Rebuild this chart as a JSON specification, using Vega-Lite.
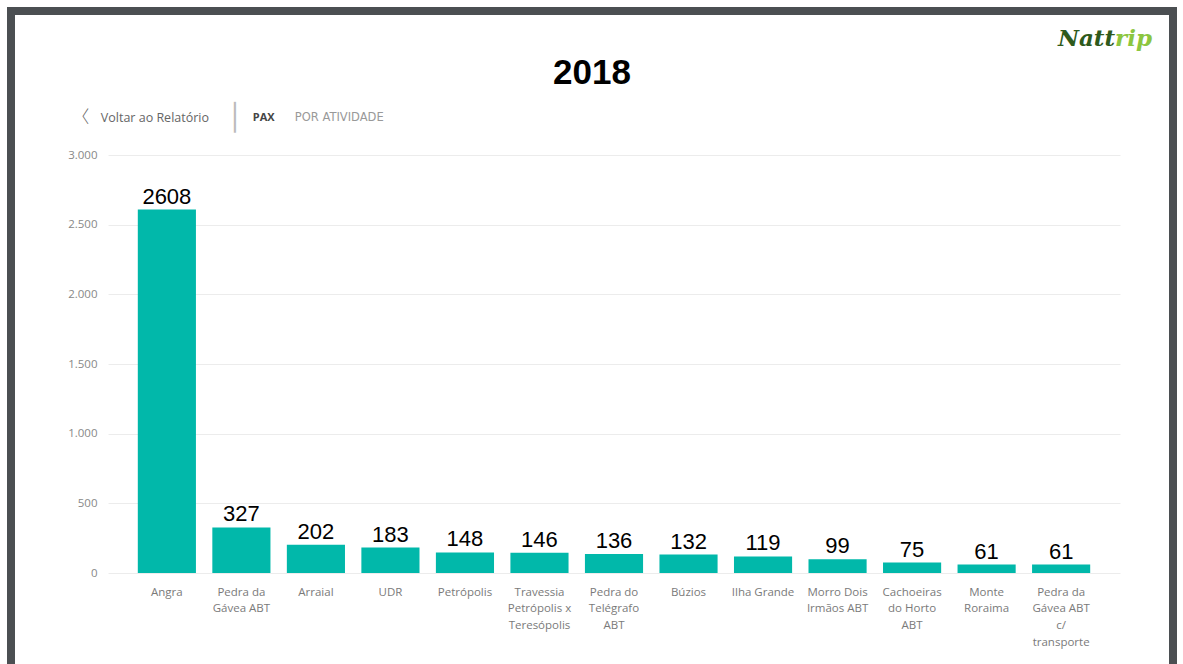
{
  "$schema": "https://vega.github.io/schema/vega-lite/v6.json",
  "width": 1162,
  "height": 653,
  "autosize": "none",
  "padding": {"left": 11, "top": 11, "right": 10, "bottom": 0},
  "background": "white",
  "config": {
    "locale": {"number": {"decimal": ",", "thousands": ".", "grouping": [3], "currency": ["R$", ""]}},
    "view": {"stroke": "#4b4f52", "strokeWidth": 8, "fill": "white", "strokeDash": [1815, 1162, 700, 0]}
  },
  "title": {
    "text": "2018",
    "anchor": "middle",
    "frame": "group",
    "font": "Liberation Sans",
    "fontSize": 35,
    "fontWeight": "bold",
    "color": "#000000",
    "baseline": "alphabetic",
    "offset": -108
  },
  "layer": [
    {
      "data": {"name": "pax", "values": [
        {"atividade": "Angra", "pax": 2608},
        {"atividade": "Pedra da Gávea ABT", "pax": 327},
        {"atividade": "Arraial", "pax": 202},
        {"atividade": "UDR", "pax": 183},
        {"atividade": "Petrópolis", "pax": 148},
        {"atividade": "Travessia Petrópolis x Teresópolis", "pax": 146},
        {"atividade": "Pedra do Telégrafo ABT", "pax": 136},
        {"atividade": "Búzios", "pax": 132},
        {"atividade": "Ilha Grande", "pax": 119},
        {"atividade": "Morro Dois Irmãos ABT", "pax": 99},
        {"atividade": "Cachoeiras do Horto ABT", "pax": 75},
        {"atividade": "Monte Roraima", "pax": 61},
        {"atividade": "Pedra da Gávea ABT c/ transporte", "pax": 61}
      ]},
      "layer": [
        {
          "mark": {"type": "bar", "color": "#01B8AA"},
          "encoding": {
            "x": {
              "field": "atividade", "type": "nominal", "sort": null,
              "scale": {"range": [97, 1109], "paddingInner": 0.22, "paddingOuter": 0.4},
              "axis": {
                "title": null, "offset": -91, "domain": false, "ticks": false, "grid": false,
                "labelAngle": 0, "labelPadding": 13, "labelBaseline": "top", "labelAlign": "center",
                "labelFont": "Open Sans", "labelFontSize": 11.5, "labelColor": "#7a7a7a",
                "labelLineHeight": 16.7, "labelOverlap": false, "labelLimit": 200,
                "labelExpr": "datum.value == 'Pedra da Gávea ABT' ? ['Pedra da','Gávea ABT'] : datum.value == 'Travessia Petrópolis x Teresópolis' ? ['Travessia','Petrópolis x','Teresópolis'] : datum.value == 'Pedra do Telégrafo ABT' ? ['Pedra do','Telégrafo','ABT'] : datum.value == 'Morro Dois Irmãos ABT' ? ['Morro Dois','Irmãos ABT'] : datum.value == 'Cachoeiras do Horto ABT' ? ['Cachoeiras','do Horto','ABT'] : datum.value == 'Monte Roraima' ? ['Monte','Roraima'] : datum.value == 'Pedra da Gávea ABT c/ transporte' ? ['Pedra da','Gávea ABT','c/','transporte'] : datum.value"
              }
            },
            "y": {
              "field": "pax", "type": "quantitative",
              "scale": {"domain": [0, 3000], "range": [562, 144], "nice": false},
              "axis": {
                "title": null, "offset": -90, "labelPadding": 4, "domain": false, "ticks": false,
                "values": [0, 500, 1000, 1500, 2000, 2500, 3000], "format": ",d",
                "labelFont": "Open Sans", "labelFontSize": 11.5, "labelColor": "#888888",
                "gridColor": "#ececec", "gridWidth": 1
              }
            }
          }
        },
        {
          "mark": {"type": "text", "align": "center", "baseline": "alphabetic", "dy": -6, "font": "Liberation Sans", "fontSize": 22, "color": "#000000"},
          "encoding": {
            "x": {"field": "atividade", "type": "nominal", "sort": null},
            "y": {"field": "pax", "type": "quantitative"},
            "text": {"field": "pax", "type": "quantitative", "format": "d"}
          }
        }
      ]
    },
    {
      "data": {"values": [{}]},
      "layer": [
        {
          "mark": {"type": "text", "text": "〈", "align": "center", "baseline": "middle", "dx": -57, "dy": 0, "font": "Noto Sans CJK SC", "fontWeight": 300, "fontSize": 17, "color": "#666666"},
          "encoding": {"x": {"datum": "Angra", "bandPosition": 0}, "y": {"datum": 3265}}
        },
        {
          "mark": {"type": "text", "text": "Voltar ao Relatório", "align": "left", "baseline": "middle", "dx": -37, "font": "Open Sans", "fontSize": 12.5, "color": "#666666"},
          "encoding": {"x": {"datum": "Angra", "bandPosition": 0}, "y": {"datum": 3265}}
        },
        {
          "mark": {"type": "text", "text": "│", "align": "center", "baseline": "middle", "dx": 97, "font": "DejaVu Sans", "fontSize": 26, "color": "#bbbbbb"},
          "encoding": {"x": {"datum": "Angra", "bandPosition": 0}, "y": {"datum": 3265}}
        },
        {
          "mark": {"type": "text", "text": "PAX", "align": "left", "baseline": "middle", "dx": 115, "font": "Open Sans", "fontSize": 11, "fontWeight": "bold", "color": "#444444"},
          "encoding": {"x": {"datum": "Angra", "bandPosition": 0}, "y": {"datum": 3265}}
        },
        {
          "mark": {"type": "text", "text": "POR ATIVIDADE", "align": "left", "baseline": "middle", "dx": 157, "font": "DejaVu Sans", "fontSize": 11.5, "color": "#999999"},
          "encoding": {"x": {"datum": "Angra", "bandPosition": 0}, "y": {"datum": 3265}}
        },
        {
          "mark": {"type": "text", "text": "Natt", "align": "right", "baseline": "alphabetic", "dx": 83, "font": "DejaVu Serif", "fontStyle": "italic", "fontWeight": "bold", "fontSize": 23, "color": "#2e5a1c"},
          "encoding": {"x": {"datum": "Pedra da Gávea ABT c/ transporte", "bandPosition": 0}, "y": {"datum": 3782}}
        },
        {
          "mark": {"type": "text", "text": "rip", "align": "left", "baseline": "alphabetic", "dx": 83, "font": "DejaVu Serif", "fontStyle": "italic", "fontWeight": "bold", "fontSize": 23, "color": "#8cc63f"},
          "encoding": {"x": {"datum": "Pedra da Gávea ABT c/ transporte", "bandPosition": 0}, "y": {"datum": 3782}}
        }
      ]
    }
  ]
}
